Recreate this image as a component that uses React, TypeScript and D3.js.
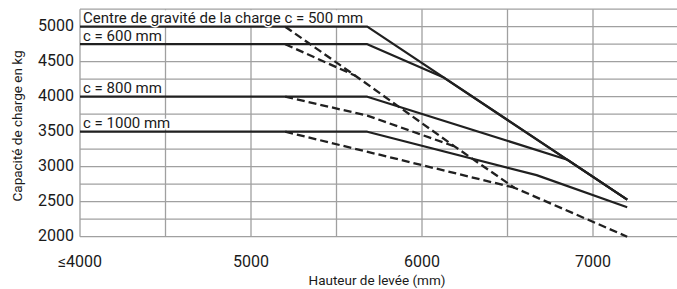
import * as d3 from 'd3'

// lift height (mm) vs capacity (kg), one pair of curves per load centre
const xTicks = [4000, 5000, 6000, 7000]
const xTickLabels = ['≤4000', '5000', '6000', '7000']
const xGrid = [4500, 5000, 5500, 6000, 6500, 7000, 7500]
const yTicks = [2000, 2500, 3000, 3500, 4000, 4500, 5000]
const yGrid = [2000, 2250, 2500, 2750, 3000, 3250, 3500, 3750, 4000, 4250, 4500, 4750, 5000, 5250]

const solidC500: [number, number][] = [[4000, 5000], [5680, 5000], [7200, 2530]]
const solidC600: [number, number][] = [[4000, 4750], [5680, 4750], [6130, 4270], [7200, 2530]]
const solidC800: [number, number][] = [[4000, 4000], [5680, 4000], [6850, 3100], [7200, 2530]]
const solidC1000: [number, number][] = [[4000, 3500], [5680, 3500], [6670, 2880], [7200, 2420]]

const dashedC500: [number, number][] = [[5200, 5000], [5610, 4300], [6190, 3290], [6540, 2700], [7200, 2000]]
const dashedC600: [number, number][] = [[5200, 4750], [5610, 4300], [6190, 3290], [6540, 2700], [7200, 2000]]
const dashedC800: [number, number][] = [[5200, 4000], [5680, 3730], [6190, 3290], [6540, 2700], [7200, 2000]]
const dashedC1000: [number, number][] = [[5200, 3500], [6540, 2700], [7200, 2000]]

const curveLabels = ['Centre de gravité de la charge c = 500 mm', 'c = 600 mm', 'c = 800 mm', 'c = 1000 mm']
const curveLevels = [5000, 4750, 4000, 3500]

const W = 677
const H = 289
const FONT = "Roboto, 'Open Sans', sans-serif"

// where a dashed curve joins the c=500 one, stop it there so the dashes don't pile up
function untilJoin(s: [number, number][], base: [number, number][]) {
  const idx = s.findIndex((p) => base.some((b) => b[0] === p[0] && b[1] === p[1]))
  return idx < 0 ? s : s.slice(0, idx + 1)
}

export default function App() {
  const x = d3.scaleLinear().domain([4000, 7500]).range([80, 678.5])
  const y = d3.scaleLinear().domain([2000, 5250]).range([236.7, 9.2])
  const line = d3
    .line<[number, number]>()
    .x((d) => x(d[0]))
    .y((d) => y(d[1]))

  const gridColor = '#a0a0a0'
  const ink = '#202020'

  const dashed = [
    untilJoin(dashedC1000, dashedC500),
    untilJoin(dashedC800, dashedC500),
    untilJoin(dashedC600, dashedC500),
    dashedC500,
  ]

  return (
    <div style={{ position: 'absolute', left: 0, top: 0 }}>
      <svg width={W} height={H} style={{ display: 'block', background: '#fff' }}>
        {/* grid */}
        {yGrid.map((v) => (
          <line key={'h' + v} x1={x(4000)} x2={W} y1={y(v)} y2={y(v)} stroke={gridColor} strokeWidth={1.3} />
        ))}
        {xGrid.map((v) => (
          <line key={'v' + v} x1={x(v)} x2={x(v)} y1={y(5250)} y2={y(2000)} stroke={gridColor} strokeWidth={1.3} />
        ))}
        <line x1={x(4000)} x2={x(4000)} y1={y(5250)} y2={y(2000)} stroke={gridColor} strokeWidth={1.3} />

        {/* white box behind the top label */}
        <rect
          x={x(4000) + 1}
          y={y(5250) + 1}
          width={x(5680) - x(4000) - 1}
          height={y(5000) - y(5250) - 1.5}
          fill="#fff"
        />

        {/* dashed curves */}
        {dashed.map((s, i) => (
          <path key={'d' + i} d={line(s) || ''} fill="none" stroke={ink} strokeWidth={2.3} strokeDasharray="8,4" />
        ))}

        {/* solid curves */}
        {[solidC1000, solidC800, solidC600, solidC500].map((s, i) => (
          <path key={'s' + i} d={line(s) || ''} fill="none" stroke={ink} strokeWidth={2.2} strokeLinejoin="round" />
        ))}

        {/* curve labels */}
        {curveLabels.map((t, i) => (
          <text
            key={t}
            x={x(4000) + 3}
            y={y(curveLevels[i]) - 3.5}
            fontFamily={FONT}
            fontSize={15}
            fill="#1a1a1a"
            stroke="#fff"
            strokeWidth={3}
            style={{ paintOrder: 'stroke' }}
          >
            {t}
          </text>
        ))}

        {/* y tick labels */}
        {yTicks.map((v) => (
          <text
            key={'yl' + v}
            x={74}
            y={y(v)}
            textAnchor="end"
            dominantBaseline="middle"
            fontFamily={FONT}
            fontSize={16}
            fill="#1a1a1a"
          >
            {v}
          </text>
        ))}

        {/* x tick labels */}
        {xTicks.map((v, i) => (
          <text
            key={'xl' + v}
            x={x(v)}
            y={267}
            textAnchor="middle"
            fontFamily={FONT}
            fontSize={16}
            fill="#1a1a1a"
          >
            {xTickLabels[i]}
          </text>
        ))}

        {/* axis titles */}
        <text x={377} y={285} textAnchor="middle" fontFamily={FONT} fontSize={13.5} fill="#1a1a1a">
          Hauteur de levée (mm)
        </text>
        <text
          transform={`translate(22,${(y(5250) + y(2000)) / 2 + 3}) rotate(-90)`}
          textAnchor="middle"
          fontFamily={FONT}
          fontSize={13.5}
          fill="#1a1a1a"
        >
          Capacité de charge en kg
        </text>
      </svg>
    </div>
  )
}
